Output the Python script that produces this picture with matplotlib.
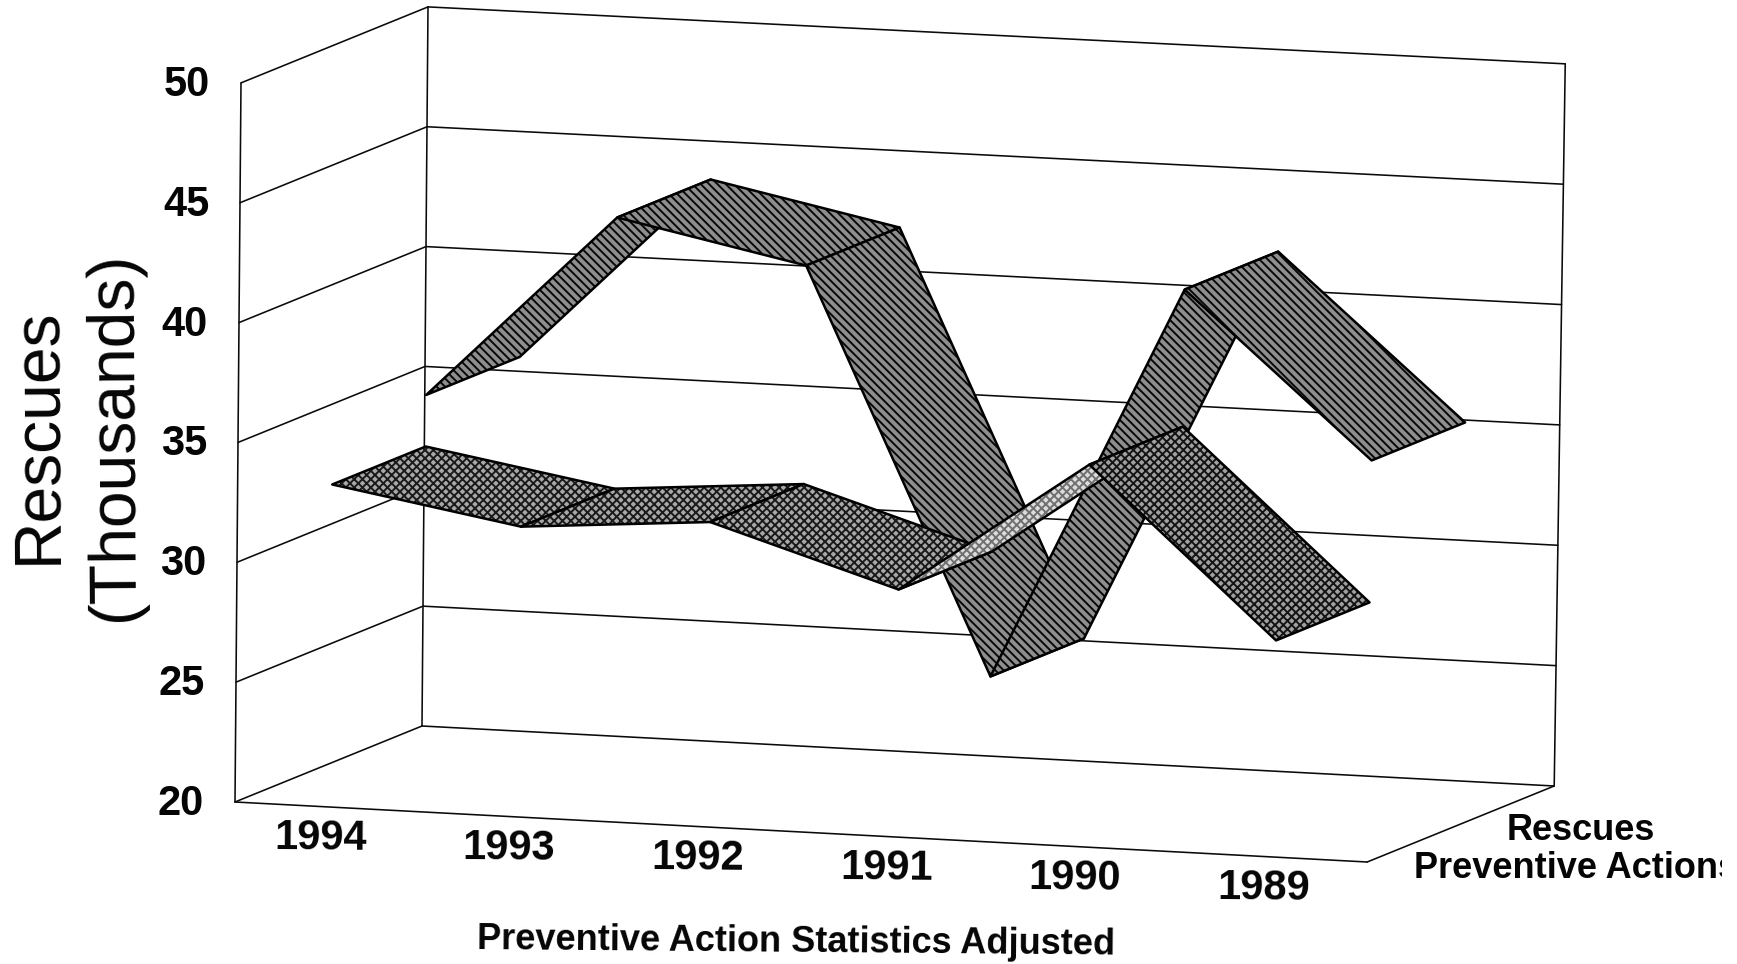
import matplotlib
matplotlib.use("Agg")
import matplotlib.pyplot as plt
from matplotlib.patches import Polygon, Rectangle

plt.rcParams['font.family'] = ['Liberation Sans', 'DejaVu Sans']
plt.rcParams['hatch.linewidth'] = 1.4

# ---- data ----
years = ['1994', '1993', '1992', '1991', '1990', '1989']
rescues = [35.6, 43.4, 41.8, 25.1, 41.6, 34.9]
preventive = [33.45, 32.1, 32.7, 30.3, 35.9, 29.0]
value_ticks = [20, 25, 30, 35, 40, 45, 50]
series_names = ['Rescues', 'Preventive Actions']
y_title = 'Rescues\n(Thousands)'
x_title = 'Preventive Action Statistics Adjusted'

# ---- oblique projection of the 3-D box onto the page ----
O = (235.0, 802.0)
STEP = (188.7, 10.0)      # one category
DEPTH = (187.0, -76.0)    # whole depth of the box
UNIT = (0.2, -23.97)      # one thousand rescues at the left wall
UNIT_SKEW = (0.028, -0.017)  # slight change of that per category
VMIN = value_ticks[0]


def project(cat, depth, value):
    dv = value - VMIN
    return (O[0] + cat * STEP[0] + depth * DEPTH[0] + dv * (UNIT[0] + cat * UNIT_SKEW[0]),
            O[1] + cat * STEP[1] + depth * DEPTH[1] + dv * (UNIT[1] + cat * UNIT_SKEW[1]))


fig = plt.figure(figsize=(17.37, 9.64), dpi=100, facecolor='white')
ax = fig.add_axes([0, 0, 1, 1])
ax.set_xlim(0, 1737)
ax.set_ylim(964, 0)
ax.axis('off')

n = len(years)
GRID = dict(color='#0a0a0a', lw=1.15, zorder=1, solid_capstyle='round')


def line(a, b, **kw):
    ax.plot([a[0], b[0]], [a[1], b[1]], **kw)


# walls and floor
for v in value_ticks:
    line(project(0, 0, v), project(0, 1, v), **GRID)
    line(project(0, 1, v), project(n, 1, v), **GRID)
vmax = value_ticks[-1]
line(project(0, 0, VMIN), project(0, 0, vmax), **GRID)
line(project(0, 1, VMIN), project(0, 1, vmax), **GRID)
line(project(n, 1, VMIN), project(n, 1, vmax), **GRID)
line(project(0, 0, VMIN), project(n, 0, VMIN), **GRID)
line(project(n, 0, VMIN), project(n, 1, VMIN), **GRID)


def ribbon(values, d0, d1, hatch, faces, inks, z):
    for i in range(len(values) - 1):
        pts = [project(i + .5, d0, values[i]), project(i + 1.5, d0, values[i + 1]),
               project(i + 1.5, d1, values[i + 1]), project(i + .5, d1, values[i])]
        ax.add_patch(Polygon(pts, closed=True, facecolor=faces[i], edgecolor=inks[i],
                             hatch=hatch, lw=0, zorder=z + i * 0.1))
        ax.add_patch(Polygon(pts, closed=True, fill=False, edgecolor='black', lw=1.8,
                             joinstyle='round', zorder=z + i * 0.1 + 0.01))


ribbon(rescues, 0.5, 1.0, '\\\\\\\\', ['#8e8e8e'] * 5, ['#080808'] * 5, 3)
ribbon(preventive, 0.0, 0.5, 'xxxx',
       ['#a8a8a8', '#a8a8a8', '#a8a8a8', '#dcdcdc', '#a0a0a0'],
       ['#1a1a1a', '#1a1a1a', '#1a1a1a', '#707070', '#141414'], 5)

ROT = -0.5
BOLD = dict(fontweight='bold', color='#050505', ha='center', va='center', zorder=10)

# value axis labels
for v in value_ticks:
    x, y = project(0, 0, v)
    ax.text(x - 54, y + 2, str(v), fontsize=30, **BOLD)

# category labels
for i, yr in enumerate(years):
    x, y = project(i + .5, 0, VMIN)
    ax.text(x - 9, y + 31, yr, fontsize=30, rotation=ROT, rotation_mode='anchor', **BOLD)

# series labels on the depth axis, cut off at the scan's edge
clip = Rectangle((0, 0), 1722, 964, transform=ax.transData, fill=False, lw=0)
ax.add_patch(clip)
for name, xx, yy in zip(series_names, [1581, 1576], [830, 868]):
    t = ax.text(xx, yy, name, fontsize=26, clip_on=True, **BOLD)
    t.set_clip_path(clip)

ax.text(796, 942, x_title, fontsize=26, rotation=ROT, rotation_mode='anchor', **BOLD)
ax.text(76, 436, y_title, fontsize=47.5, rotation=90.4, rotation_mode='anchor',
        ha='center', va='center', multialignment='center', color='#050505',
        linespacing=1.3, zorder=10)

fig.savefig('out.png', dpi=100, facecolor='white')
